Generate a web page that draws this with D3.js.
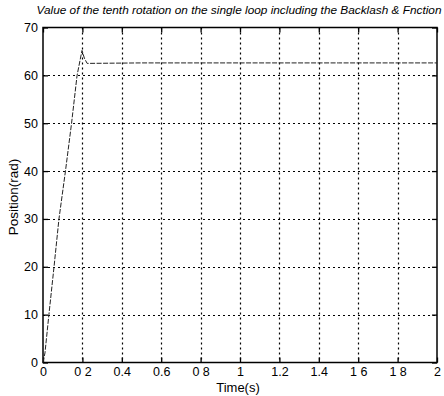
<!DOCTYPE html>
<html>
<head>
<meta charset="utf-8">
<script src="https://cdn.jsdelivr.net/npm/d3@7"></script>
<style>
  body { margin: 0; background: #fff; }
  svg { display: block; font-family: "Liberation Sans", Arial, sans-serif; }
</style>
</head>
<body>
<svg id="chart" width="444" height="396"></svg>
<script>
// Data
const times = [0, 0.01, 0.03, 0.056, 0.081, 0.114, 0.145, 0.173, 0.198, 0.21, 0.224, 0.5, 1, 1.5, 2];
const positions = [0, 2, 10, 20, 30, 40, 50, 60, 65.2, 63.6, 62.5, 62.6, 62.6, 62.6, 62.6];
const xTicks = [0, 0.2, 0.4, 0.6, 0.8, 1, 1.2, 1.4, 1.6, 1.8, 2];
const xTickLabels = ["0", "0 2", "0.4", "0.6", "0 8", "1", "1.2", "1.4", "1 6", "1 8", "2"];
const yTicks = [0, 10, 20, 30, 40, 50, 60, 70];

const svg = d3.select("#chart");
const margin = { left: 43, right: 7, top: 27.5, bottom: 33.5 };
const width = 444, height = 396;

const x = d3.scaleLinear().domain([0, 2]).range([margin.left, width - margin.right]);
const y = d3.scaleLinear().domain([0, 70]).range([height - margin.bottom, margin.top]);

// Grid
const grid = svg.append("g").attr("stroke", "#000").attr("stroke-width", 1.2).attr("stroke-dasharray", "2,3");
grid.selectAll(".vg").data(xTicks.slice(1, -1)).enter().append("line")
    .attr("x1", d => Math.round(x(d)) + 0.5).attr("x2", d => Math.round(x(d)) + 0.5)
    .attr("y1", y(70)).attr("y2", y(0));
grid.selectAll(".hg").data(yTicks.slice(1, -1)).enter().append("line")
    .attr("y1", d => Math.round(y(d)) + 0.5).attr("y2", d => Math.round(y(d)) + 0.5)
    .attr("x1", x(0)).attr("x2", x(2));

// Axes
const xAxis = d3.axisBottom(x).tickValues(xTicks).tickSize(-5).tickPadding(5)
    .tickFormat((d, i) => xTickLabels[i]);
const xTop = d3.axisTop(x).tickValues(xTicks).tickSize(-5).tickFormat("");
const yAxis = d3.axisLeft(y).tickValues(yTicks).tickSize(-5).tickPadding(5);
const yRight = d3.axisRight(y).tickValues(yTicks).tickSize(-5).tickFormat("");

function styleAxis(g) {
    g.select(".domain").remove();
    g.selectAll("line").attr("stroke", "#000").attr("stroke-width", 1.3);
    g.selectAll("text").attr("fill", "#000").attr("font-size", 12.5);
}
svg.append("g").attr("transform", `translate(0,${y(0)})`).call(xAxis).call(styleAxis);
svg.append("g").attr("transform", `translate(0,${y(70)})`).call(xTop).call(styleAxis);
svg.append("g").attr("transform", `translate(${x(0)},0)`).call(yAxis).call(styleAxis);
svg.append("g").attr("transform", `translate(${x(2)},0)`).call(yRight).call(styleAxis);

// Frame
svg.append("rect")
    .attr("x", x(0)).attr("y", y(70))
    .attr("width", x(2) - x(0)).attr("height", y(0) - y(70))
    .attr("fill", "none").attr("stroke", "#000").attr("stroke-width", 1.5);

// Curve
const line = d3.line().x((d, i) => x(times[i])).y(d => y(d));
svg.append("path")
    .datum(positions)
    .attr("d", line)
    .attr("fill", "none")
    .attr("stroke", "#222")
    .attr("stroke-width", 1)
    .attr("stroke-dasharray", "5,1.5");

// Labels
svg.append("text")
    .attr("x", 239).attr("y", 14)
    .attr("text-anchor", "middle")
    .attr("font-size", 11).attr("font-style", "italic")
    .attr("textLength", 405).attr("lengthAdjust", "spacingAndGlyphs")
    .text("Value of the tenth rotation on the single loop including the Backlash & Fnction");

svg.append("text")
    .attr("x", x(1) - 2).attr("y", 392)
    .attr("text-anchor", "middle")
    .attr("font-size", 13)
    .text("Time(s)");

svg.append("text")
    .attr("transform", `translate(18,197) rotate(-90)`)
    .attr("text-anchor", "middle")
    .attr("font-size", 13.5)
    .text("Position(rad)");
</script>
</body>
</html>
